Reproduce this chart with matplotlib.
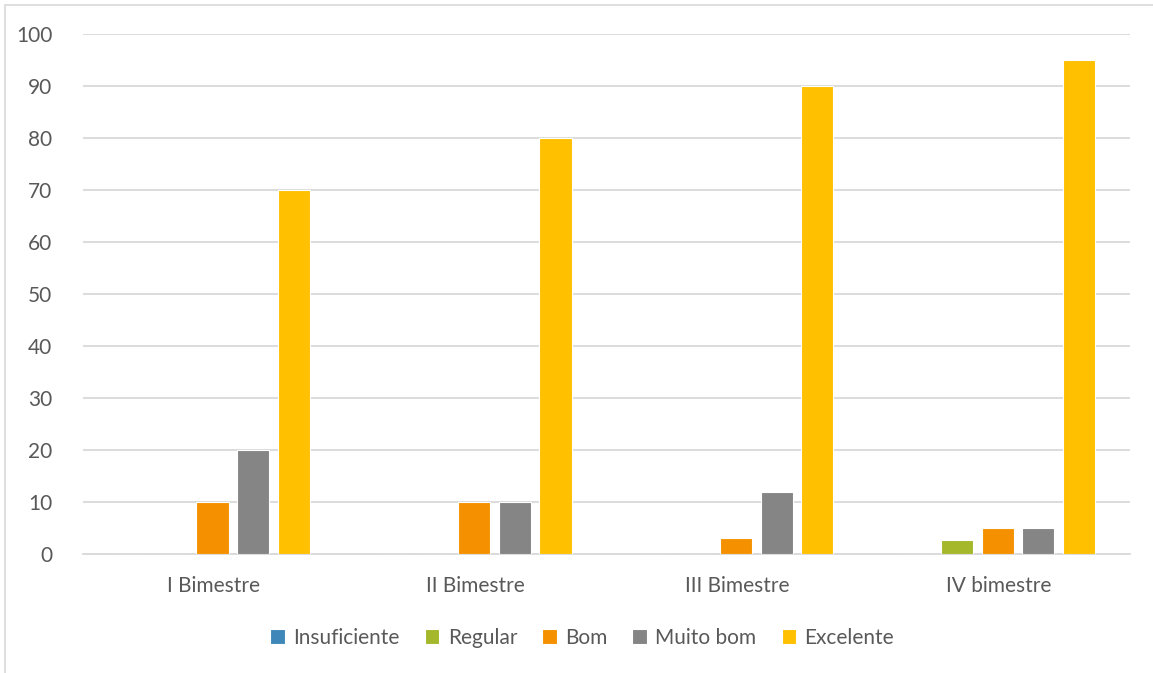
import matplotlib
matplotlib.use("Agg")
import matplotlib.pyplot as plt
import numpy as np
from matplotlib.patches import Rectangle

categories = ["I Bimestre", "II Bimestre", "III Bimestre", "IV bimestre"]
series_names = ["Insuficiente", "Regular", "Bom", "Muito bom", "Excelente"]
insuficiente = [0, 0, 0, 0]
regular = [0, 0, 0, 2.7]
bom = [10, 10, 3, 5]
muito_bom = [20, 10, 12, 5]
excelente = [70, 80, 90, 95]
series_values = [insuficiente, regular, bom, muito_bom, excelente]
colors = ["#3F87B8", "#A5B72A", "#F59100", "#858585", "#FFC000"]
y_ticks = list(range(0, 101, 10))

plt.rcParams["font.family"] = ["Lato", "DejaVu Sans"]
W, H = 1153, 673
fig = plt.figure(figsize=(W / 100, H / 100), dpi=100)
ax = fig.add_axes([83 / W, 1 - 554 / H, (1130 - 83) / W, (554 - 34) / H])

x = np.arange(len(categories))
pitch = 0.155
width = 0.123
for i, (name, vals, c) in enumerate(zip(series_names, series_values, colors)):
    ax.bar(x + (i - 2) * pitch - 0.005, vals, width, color=c, label=name,
           edgecolor="white", linewidth=0.8, zorder=3)

ax.set_xlim(-0.5, len(categories) - 0.5)
ax.set_ylim(0, 100)
ax.set_yticks(y_ticks)
ax.set_xticks(x)
ax.set_xticklabels(categories)
ax.yaxis.grid(True, color="#D9D9D9", linewidth=1.3, zorder=0)
ax.set_axisbelow(True)
for s in ["top", "right", "left"]:
    ax.spines[s].set_visible(False)
ax.spines["bottom"].set_color("#D9D9D9")
ax.spines["bottom"].set_linewidth(1.3)
ax.tick_params(axis="both", length=0, colors="#595959", labelsize=15)
ax.tick_params(axis="y", pad=22)
ax.tick_params(axis="x", pad=16)

handles, labels = ax.get_legend_handles_labels()
fig.legend(handles, labels, loc="center", bbox_to_anchor=(0.505, 1 - 638 / H),
           ncol=5, frameon=False, fontsize=15, labelcolor="#595959",
           handlelength=0.7, handleheight=0.7, handletextpad=0.4,
           columnspacing=1.2)

fig.patches.append(Rectangle((5 / W, -0.1), 1.2, 1 - 5 / H + 0.1,
                             transform=fig.transFigure, fill=False,
                             edgecolor="#D9D9D9", linewidth=1.2))

fig.savefig("out.png", dpi=100, facecolor="white")
